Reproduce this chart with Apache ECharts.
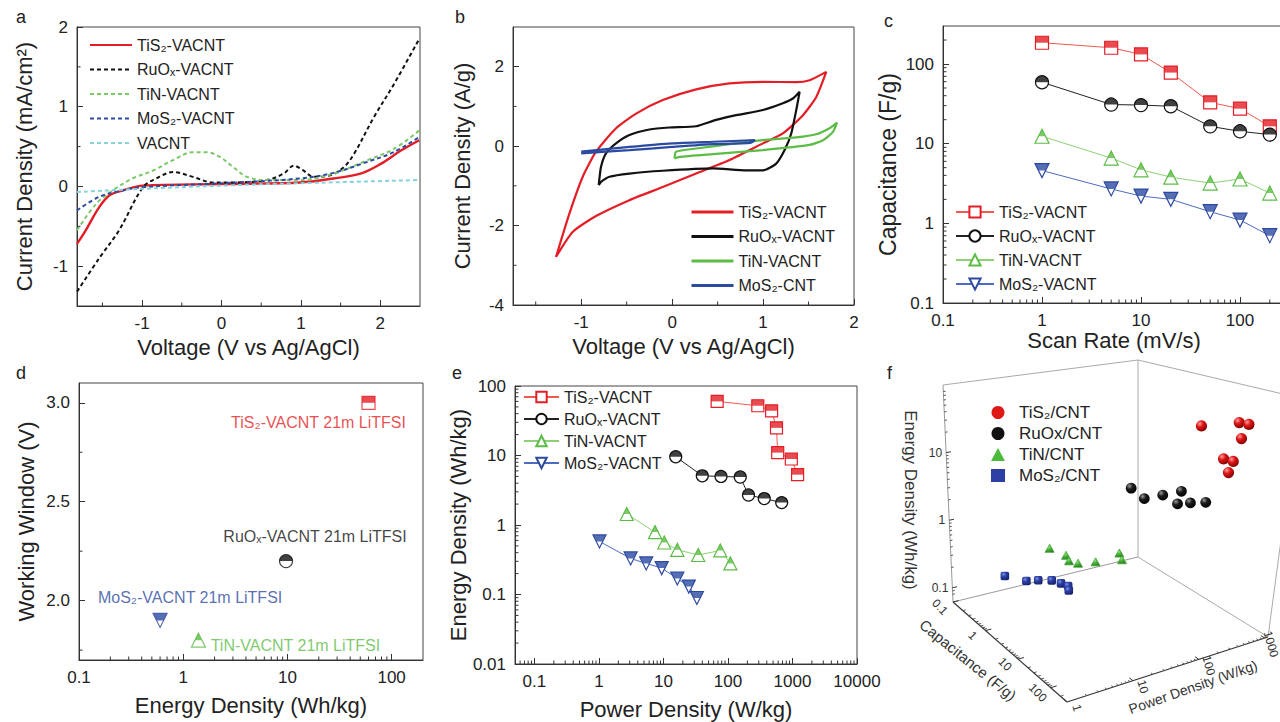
<!DOCTYPE html>
<html><head><meta charset="utf-8">
<script src="https://cdn.jsdelivr.net/npm/echarts@6/dist/echarts.min.js"></script>
<style>html,body{margin:0;padding:0;background:#fff}#c{width:1280px;height:722px}</style>
</head><body><div id="c"></div><script>
// ================= DATA =================
// Panel a: current density (mA/cm2) vs voltage (V vs Ag/AgCl)
const aTiS2 = [[-1.82,-0.72],[-1.71,-0.55],[-1.54,-0.26],[-1.41,-0.11],[-1.24,-0.05],[-0.99,0.01],[0,0.03],[0.99,0.05],[1.41,0.1],[1.75,0.16],[2.0,0.28],[2.26,0.45],[2.49,0.58]];
const aRuOx = [[-1.82,-1.32],[-1.54,-0.9],[-1.29,-0.55],[-0.99,-0.01],[-0.82,0.1],[-0.61,0.18],[-0.36,0.12],[-0.11,0.05],[0.15,0.05],[0.57,0.08],[0.78,0.16],[0.91,0.26],[1.03,0.2],[1.16,0.12],[1.37,0.14],[1.54,0.24],[1.67,0.41],[1.92,0.87],[2.17,1.28],[2.49,1.85]];
const aTiN  = [[-1.82,-0.55],[-1.58,-0.22],[-1.37,-0.05],[-1.12,0.1],[-0.86,0.2],[-0.61,0.33],[-0.36,0.43],[-0.19,0.43],[-0.02,0.37],[0.15,0.24],[0.32,0.12],[0.57,0.08],[0.99,0.08],[1.41,0.16],[1.84,0.33],[2.17,0.47],[2.49,0.7]];
const aMoS2 = [[-1.82,-0.3],[-1.54,-0.13],[-1.29,-0.06],[-0.99,-0.01],[0,0.04],[0.99,0.1],[1.41,0.17],[1.84,0.31],[2.17,0.43],[2.49,0.62]];
const aVACNT = [[-1.82,-0.07],[-0.99,-0.03],[0,0.01],[0.99,0.04],[2.49,0.08]];

// Panel b: CV loops, current density (A/g) vs voltage
const bTiS2 = [[-1.277,-2.79],[-1.130,-1.70],[-0.983,-0.77],[-0.837,-0.14],[-0.617,0.45],[-0.396,0.82],[-0.103,1.16],[0.264,1.43],[0.631,1.58],[0.998,1.62],[1.365,1.61],[1.512,1.66],[1.695,1.87],
  [1.585,1.24],[1.439,0.78],[1.218,0.32],[0.998,0.07],[0.631,-0.35],[0.264,-0.69],[-0.103,-1.03],[-0.470,-1.36],[-0.837,-1.76],[-1.094,-2.16],[-1.277,-2.79]];
const bRuOx = [[-0.807,-0.98],[-0.782,-0.52],[-0.727,-0.18],[-0.617,0.07],[-0.470,0.28],[-0.250,0.42],[-0.029,0.47],[0.264,0.50],[0.484,0.66],[0.705,0.78],[0.998,0.91],[1.218,1.08],[1.328,1.20],[1.402,1.37],
  [1.365,0.91],[1.310,0.32],[1.237,-0.10],[1.145,-0.44],[0.998,-0.61],[0.815,-0.61],[0.448,-0.56],[-0.103,-0.62],[-0.470,-0.69],[-0.690,-0.77],[-0.782,-0.90],[-0.807,-0.98]];
const bTiN  = [[0.026,-0.31],[0.044,-0.14],[0.264,-0.06],[0.631,0.05],[0.998,0.15],[1.365,0.22],[1.585,0.30],[1.732,0.45],[1.813,0.59],
  [1.769,0.36],[1.659,0.15],[1.512,0.03],[0.998,-0.10],[0.448,-0.20],[0.081,-0.27],[0.026,-0.31]];
const bMoS2 = [[-1.0,-0.14],[-0.47,-0.02],[0,0.07],[0.45,0.11],[0.91,0.15],[0.86,0.08],[0.45,0.05],[0,-0.02],[-0.47,-0.10],[-1.0,-0.18]];

// Panel c: capacitance (F/g) vs scan rate (mV/s)
const cScan = [1,5,10,20,50,100,200];
const cTiS2 = [185,160,132,78,33,27.5,16.5];
const cRuOx = [59,31,30.5,29.5,16.5,14.3,13];
const cTiN  = [12.4,6.6,4.7,3.8,3.2,3.6,2.4];
const cMoS2 = [4.6,2.7,2.2,2.0,1.4,1.1,0.7];

// Panel d: working window (V) vs energy density (Wh/kg)
const dNames  = ['TiS₂-VACNT 21m LiTFSI','RuOₓ-VACNT 21m LiTFSI','MoS₂-VACNT 21m LiTFSI','TiN-VACNT 21m LiTFSI'];
const dEnergy = [60, 9.7, 0.6, 1.4];
const dWindow = [3.0, 2.2, 1.9, 1.8];

// Panel e: energy density (Wh/kg) vs power density (W/kg)
const eTiS2P = [68,290,475,565,590,960,1200];
const eTiS2E = [60,52,44,25,11,8.9,5.3];
const eRuOxP = [15.5,40,78,155,208,365,680];
const eRuOxE = [9.6,5.1,5.0,4.9,2.7,2.4,2.1];
const eTiNP  = [2.7,7.4,10.3,16.4,34.6,76,109];
const eTiNE  = [1.44,0.79,0.56,0.44,0.37,0.43,0.28];
const eMoS2P = [1.02,3.1,5.4,9.4,16.4,24.7,33];
const eMoS2E = [0.58,0.33,0.28,0.24,0.17,0.13,0.089];

// Panel f: 3D (power, capacitance, energy) – same measurements
const fNames = ['TiS₂/CNT','RuOx/CNT','TiN/CNT','MoS₂/CNT'];
const fEnergyTicks = [0.1,1,10];
const fCapTicks = [0.1,1,10,100];
const fPowerTicks = [1,10,100,1000];

// ================= STYLE =================
const FONT = '"Liberation Sans", Arial, sans-serif';
const RED='#e31e26', BLK='#111111', GRN='#5cbc46', LGRN='#7cc866', BLU='#2c4aa0', CYN='#86d2dd';

const grids = [
  {left:77, top:27, width:343, height:279},
  {left:513, top:27, width:341, height:278},
  {left:943, top:26, width:396, height:277},
  {left:79, top:383, width:344, height:277},
  {left:515, top:386, width:342, height:278},
  {left:860, top:360, width:420, height:362}
].map((g,i)=>Object.assign(g, {outerBoundsMode:'none', containLabel:false},
   i<5 ? {show:true, borderColor:'#444', borderWidth:1} : {show:false}));

function ax(gi, extra){
  return Object.assign({
    gridIndex:gi,
    axisLine:{show:true, onZero:false, lineStyle:{color:'#333', width:1}},
    axisTick:{show:true, inside:true, length:6, lineStyle:{color:'#333'}},
    axisLabel:{color:'#222', fontSize:17, fontFamily:FONT, margin:9},
    splitLine:{show:false},
    nameLocation:'middle',
    nameTextStyle:{fontSize:22, color:'#222', fontFamily:FONT}
  }, extra);
}
const logFmt = v => String(+(+v).toPrecision(6));
function logLbl(extra){ return Object.assign({color:'#222', fontSize:17, fontFamily:FONT, margin:9, formatter:logFmt}, extra); }

const xAxes = [
  ax(0,{type:'value', min:-1.82, max:2.5, splitNumber:4, name:'Voltage (V vs Ag/AgCl)', nameGap:30,
        axisLabel:{color:'#222',fontSize:17,fontFamily:FONT,margin:9,showMinLabel:false,showMaxLabel:false}}),
  ax(1,{type:'value', min:-1.75, max:2, splitNumber:4, name:'Voltage (V vs Ag/AgCl)', nameGap:30,
        axisLabel:{color:'#222',fontSize:17,fontFamily:FONT,margin:9,showMinLabel:false}}),
  ax(2,{type:'log', logBase:10, min:0.1, max:1000, name:'Scan Rate (mV/s)', nameGap:24, nameTextStyle:{fontSize:22,color:'#222',fontFamily:FONT,padding:[0,0,0,-54]}, axisLabel:logLbl({showMaxLabel:false})}),
  ax(3,{type:'log', logBase:10, min:0.1, max:200, name:'Energy Density (Wh/kg)', nameGap:34, axisLabel:logLbl({showMaxLabel:false})}),
  ax(4,{type:'log', logBase:10, min:0.05, max:10000, name:'Power Density (W/kg)', nameGap:34, axisLabel:logLbl({showMinLabel:false})}),
  {gridIndex:5, type:'value', min:0, max:420, show:false}
];
const yAxes = [
  ax(0,{type:'value', min:-1.5, max:2, splitNumber:4, name:'Current Density (mA/cm²)', nameGap:42,
        axisLabel:{color:'#222',fontSize:17,fontFamily:FONT,margin:9,showMinLabel:false}}),
  ax(1,{type:'value', min:-4, max:3, interval:2, name:'Current Density (A/g)', nameGap:40,
        axisLabel:{color:'#222',fontSize:17,fontFamily:FONT,margin:9,showMaxLabel:false}}),
  ax(2,{type:'log', logBase:10, min:0.1, max:300, name:'Capacitance (F/g)', nameGap:44, nameTextStyle:{fontSize:23,color:'#222',fontFamily:FONT}, axisLabel:logLbl({showMaxLabel:false})}),
  ax(3,{type:'value', min:1.7, max:3.1, splitNumber:3, name:'Working Window (V)', nameGap:42,
        axisLabel:{color:'#222',fontSize:17,fontFamily:FONT,margin:9,showMinLabel:false,showMaxLabel:false,formatter:v=>(+v).toFixed(1)}}),
  ax(4,{type:'log', logBase:10, min:0.01, max:100, name:'Energy Density (Wh/kg)', nameGap:42, axisLabel:logLbl({})}),
  {gridIndex:5, type:'value', min:0, max:362, inverse:true, show:false}
];

// minor ticks via custom series
function logMinors(min, max){
  const out=[]; for(let d=Math.floor(Math.log10(min)); d<=Math.ceil(Math.log10(max)); d++){
    for(let k=2;k<=9;k++){ const v=+(k*Math.pow(10,d)).toPrecision(6); if(v>min*1.0001 && v<max*0.9999) out.push(v);} }
  return out;
}
function minorTicks(gi, dim, vals, other, len){
  return {type:'custom', xAxisIndex:gi, yAxisIndex:gi, silent:true, z:5, data:vals.map(v=>[v]),
    renderItem:(params, api)=>{
      const v = api.value(0);
      const p = dim==='x' ? api.coord([v, other]) : api.coord([other, v]);
      const shape = dim==='x' ? {x1:p[0],y1:p[1],x2:p[0],y2:p[1]-len} : {x1:p[0],y1:p[1],x2:p[0]+len,y2:p[1]};
      return {type:'line', shape, style:{stroke:'#333', lineWidth:1}};
    }};
}

// half-filled symbol helpers
const SYM = {
  square:{full:'rect', half:'path://M0,0L2,0L2,1L0,1Z', hw:1, hh:0.5},
  circle:{full:'circle', half:'path://M0,10A10,10 0 0 1 20,10Z', hw:1, hh:0.5},
  up:{full:'triangle', half:'path://M1,0L2,2L0,2Z', hw:0.5, hh:0.5},
  down:{full:'path://M0,0L2,0L1,2Z', half:'path://M0,0L4,0L3,2L1,2Z', hw:1, hh:0.5}
};
function marked(name, gi, data, color, shape, size, lineColor, label){
  const s = SYM[shape];
  const main = lineColor ? {
      name, type:'line', xAxisIndex:gi, yAxisIndex:gi, data, symbol:s.full, symbolSize:size, showSymbol:true,
      lineStyle:{color:lineColor, width:1}, itemStyle:{color:'#fff', borderColor:color, borderWidth:1.2}, z:3, silent:true}
    : {name, type:'scatter', xAxisIndex:gi, yAxisIndex:gi, data, symbol:s.full, symbolSize:size,
      itemStyle:{color:'#fff', borderColor:color, borderWidth:1.2}, z:3, silent:true, label};
  const half = {name:name+'·h', type:'scatter', xAxisIndex:gi, yAxisIndex:gi, data, symbol:s.half,
      symbolSize:[size*s.hw, size*s.hh], symbolOffset:[0,-size/4], itemStyle:{color}, z:4, silent:true};
  return [main, half];
}
const zip = (xs, ys) => xs.map((x,i)=>[x, ys[i]]);

// ---------- panel f projection ----------
const LOGR = {p:[0,3.05], c:[-1,2.5], z:[-1.21,2.0]};
const FB = [[93,242],[207,342],[408,277],[278,197]];   // floor corners A,B,C,D (grid-local px)
const FT = [[83,25],[240,72],[440,38],[278,0]];        // top corners
function bil(Q,u,v){ const a=(1-u)*(1-v), b=u*(1-v), c=u*v, d=(1-u)*v;
  return [a*Q[0][0]+b*Q[1][0]+c*Q[2][0]+d*Q[3][0], a*Q[0][1]+b*Q[1][1]+c*Q[2][1]+d*Q[3][1]]; }
function fuvw(u,v,w){ const b=bil(FB,u,v), t=bil(FT,u,v); return [b[0]+(t[0]-b[0])*w, b[1]+(t[1]-b[1])*w]; }
const nrm = (x,r)=>(Math.log10(x)-r[0])/(r[1]-r[0]);
function fProj(P,Cp,E){ return fuvw(nrm(Cp,LOGR.c), nrm(P,LOGR.p), nrm(E,LOGR.z)); }

function rg(c0,c1,c2){ return new echarts.graphic.RadialGradient(0.35,0.3,0.75,[{offset:0,color:c0},{offset:0.4,color:c1},{offset:1,color:c2}]); }
function fSeries(name, P, Cp, E, kind, color){
  return {type:'custom', name, xAxisIndex:5, yAxisIndex:5, silent:true, z:10, itemStyle:{color},
    data: P.map((p,i)=>[p, Cp[i], E[i]]),
    renderItem:(params, api)=>{
      const q = api.coord(fProj(api.value(0), api.value(1), api.value(2)));
      const x = q[0]-6, y = q[1];
      if(kind==='redS') return {type:'circle', shape:{cx:x,cy:y,r:5.6}, style:{fill:rg('#ff9d9d','#e01818','#7a0000')}};
      if(kind==='blkS') return {type:'circle', shape:{cx:x,cy:y,r:5.4}, style:{fill:rg('#9a9a9a','#1c1c1c','#000')}};
      if(kind==='tri') return {type:'polygon', shape:{points:[[x,y-5],[x+4.5,y+3],[x-4.5,y+3]]}, style:{fill:rg('#b5f0a0','#4cbb3c','#2a7a20'), stroke:'#3fa533', lineWidth:0.8}};
      return {type:'rect', shape:{x:x-4.3,y:y-4.3,width:8.6,height:8.6,r:2}, style:{fill:rg('#7b8fe0','#2c3fa5','#17226a')}};
    }};
}
function fFrame(){
  return {type:'custom', xAxisIndex:5, yAxisIndex:5, silent:true, z:2, data:[[0,0]],
    renderItem:(params, api)=>{
      const P = (u,v,w)=>api.coord(fuvw(u,v,w));
      const ln = (a,b,col,lw)=>({type:'line', shape:{x1:a[0],y1:a[1],x2:b[0],y2:b[1]}, style:{stroke:col, lineWidth:lw||1}});
      const A=P(0,0,0), B=P(1,0,0), C=P(1,1,0), D=P(0,1,0), At=P(0,0,1), Dt=P(0,1,1), Ct=P(1,1,1);
      const ch = [ln(A,At,'#999'), ln(At,Dt,'#aaa'), ln(D,Dt,'#aaa'), ln(A,D,'#999'), ln(Dt,Ct,'#aaa'), ln(D,C,'#aaa'), ln(C,Ct,'#aaa'),
                  ln(A,B,'#333',1.2), ln(B,C,'#333',1.2)];
      const txt = (p,t,rot,align,fs)=>({type:'text', x:p[0], y:p[1], rotation:rot||0,
        style:{text:t, fill:'#333', fontSize:fs||12, fontFamily:FONT, align:align||'center', verticalAlign:'middle'}});
      fEnergyTicks.forEach(e=>{ const w=nrm(e,LOGR.z); const p=P(0,0,w), q=P(0,0.025,w);
        ch.push(ln(p,q,'#333')); ch.push(txt([p[0]-4,p[1]], String(e), 0, 'right')); });
      logMinors(0.07,90).forEach(e=>{ const w=nrm(e,LOGR.z); ch.push(ln(P(0,0,w),P(0,0.012,w),'#555')); });
      fCapTicks.forEach(c=>{ const u=nrm(c,LOGR.c); const p=P(u,0,0);
        ch.push(ln(p,P(u,0.03,0),'#333')); ch.push(txt([p[0]-13,p[1]+5], String(c), -0.8)); });
      logMinors(0.1,300).forEach(c=>{ const u=nrm(c,LOGR.c); ch.push(ln(P(u,0,0),P(u,0.015,0),'#555')); });
      fPowerTicks.forEach(pw=>{ const v=nrm(pw,LOGR.p); const p=P(1,v,0);
        ch.push(ln(p,P(0.97,v,0),'#333')); ch.push(txt([Math.min(p[0]+10,1271),p[1]+6], String(pw), -1.3)); });
      logMinors(1,1100).forEach(pw=>{ const v=nrm(pw,LOGR.p); ch.push(ln(P(1,v,0),P(0.985,v,0),'#555')); });
      return {type:'group', children:ch};
    }};
}

// ================= SERIES =================
const series = [];
const aLine = (name,data,color,dashed,w)=>({name, type:'line', xAxisIndex:0, yAxisIndex:0, data, symbol:'none', smooth:0.35, silent:true,
  lineStyle:{color, width:w, type: dashed?[4,3]:'solid'}, itemStyle:{color}});
series.push(aLine('a:TiS₂-VACNT', aTiS2, RED, false, 2.4));
series.push(aLine('a:RuOₓ-VACNT', aRuOx, BLK, true, 2));
series.push(aLine('a:TiN-VACNT', aTiN, LGRN, true, 2));
series.push(aLine('a:MoS₂-VACNT', aMoS2, BLU, true, 2));
series.push(aLine('a:VACNT', aVACNT, CYN, true, 2));
const bLine = (name,data,color)=>({name, type:'line', xAxisIndex:1, yAxisIndex:1, data, symbol:'none', smooth:0.2, silent:true,
  lineStyle:{color, width:2.2}, itemStyle:{color}});
series.push(bLine('b:TiS₂-VACNT', bTiS2, RED));
series.push(bLine('b:RuOₓ-VACNT', bRuOx, BLK));
series.push(bLine('b:TiN-VACNT', bTiN, GRN));
series.push(bLine('b:MoS₂-CNT', bMoS2, BLU));
series.push(...marked('c:TiS₂-VACNT', 2, zip(cScan,cTiS2), RED, 'square', 13, '#ee5a50'));
series.push(...marked('c:RuOₓ-VACNT', 2, zip(cScan,cRuOx), BLK, 'circle', 13, '#222'));
series.push(...marked('c:TiN-VACNT', 2, zip(cScan,cTiN), GRN, 'up', 14, '#8fd075'));
series.push(...marked('c:MoS₂-VACNT', 2, zip(cScan,cMoS2), BLU, 'down', 14, '#4d6cc0'));
const dLbl = (i,color,dx,dy)=>({show:true, position:'inside', offset:[dx,dy], color, fontSize:16, fontFamily:FONT, formatter:()=>dNames[i]});
series.push(...marked('d:TiS₂', 3, [[dEnergy[0],dWindow[0]]], RED, 'square', 13, null, dLbl(0,RED,-50,20)));
series.push(...marked('d:RuOₓ', 3, [[dEnergy[1],dWindow[1]]], BLK, 'circle', 13, null, dLbl(1,BLK,29,-25)));
series.push(...marked('d:MoS₂', 3, [[dEnergy[2],dWindow[2]]], BLU, 'down', 14, null, dLbl(2,BLU,30,-23)));
series.push(...marked('d:TiN', 3, [[dEnergy[3],dWindow[3]]], GRN, 'up', 14, null, dLbl(3,GRN,97,5)));
series.push(...marked('e:TiS₂-VACNT', 4, zip(eTiS2P,eTiS2E), RED, 'square', 12, '#ee5a50'));
series.push(...marked('e:RuOₓ-VACNT', 4, zip(eRuOxP,eRuOxE), BLK, 'circle', 12, '#222'));
series.push(...marked('e:TiN-VACNT', 4, zip(eTiNP,eTiNE), GRN, 'up', 13, '#8fd075'));
series.push(...marked('e:MoS₂-VACNT', 4, zip(eMoS2P,eMoS2E), BLU, 'down', 13, '#4d6cc0'));
series.push(fFrame());
series.push(fSeries(fNames[0], eTiS2P, cTiS2, eTiS2E, 'redS', '#e01818'));
series.push(fSeries(fNames[1], eRuOxP, cRuOx, eRuOxE, 'blkS', '#111'));
series.push(fSeries(fNames[2], eTiNP, cTiN, eTiNE, 'tri', '#4cbb3c'));
series.push(fSeries(fNames[3], eMoS2P, cMoS2, eMoS2E, 'sq', '#2c3fa5'));

series.push(minorTicks(0,'x',[-1.5,-0.5,0.5,1.5],-1.5,3.5));
series.push(minorTicks(0,'y',[-0.5,0.5,1.5],-1.82,3.5));
series.push(minorTicks(1,'x',[-1.5,-0.5,0.5,1.5],-4,3.5));
series.push(minorTicks(1,'y',[-3,-1,1],-1.75,3.5));
series.push(minorTicks(2,'x',logMinors(0.1,1000),0.1,3.5));
series.push(minorTicks(2,'y',logMinors(0.1,300),0.1,3.5));
series.push(minorTicks(3,'x',logMinors(0.1,200),1.7,3.5));
series.push(minorTicks(3,'y',[1.75,2.25,2.75],0.1,3.5));
series.push(minorTicks(4,'x',logMinors(0.05,10000),0.01,3.5));
series.push(minorTicks(4,'y',logMinors(0.01,100),0.05,3.5));

// ================= LEGENDS =================
const strip = n => n.slice(2);
const lgText = {fontSize:16, color:'#222', fontFamily:FONT, lineHeight:18};
const legends = [
  {data:['a:TiS₂-VACNT','a:RuOₓ-VACNT','a:TiN-VACNT','a:MoS₂-VACNT','a:VACNT'], left:89, top:36, itemWidth:42, itemHeight:12, itemGap:6.5, textStyle:lgText, itemStyle:{opacity:0}},
  {data:['b:TiS₂-VACNT','b:RuOₓ-VACNT','b:TiN-VACNT','b:MoS₂-CNT'], left:690, top:203, itemWidth:42, itemHeight:12, itemGap:6.5, textStyle:lgText, lineStyle:{width:3}, itemStyle:{opacity:0}},
  {data:['c:TiS₂-VACNT','c:RuOₓ-VACNT','c:TiN-VACNT','c:MoS₂-VACNT'], left:955, top:203, itemWidth:38, itemHeight:14, itemGap:6, textStyle:lgText},
  {data:['e:TiS₂-VACNT','e:RuOₓ-VACNT','e:TiN-VACNT','e:MoS₂-VACNT'], left:523, top:388, itemWidth:35, itemHeight:13, itemGap:4, textStyle:lgText},
].map(l=>Object.assign({orient:'vertical', formatter:strip, selectedMode:false, padding:0}, l));
legends.push({orient:'vertical', left:991, top:404, itemWidth:14, itemHeight:13, itemGap:4, padding:0, selectedMode:false,
  data:[{name:fNames[0],icon:'circle'},{name:fNames[1],icon:'circle'},{name:fNames[2],icon:'triangle'},{name:fNames[3],icon:'rect'}],
  textStyle:{fontSize:17, color:'#222', fontFamily:FONT, lineHeight:17, padding:[0,0,0,9]}});

// ================= GRAPHIC TEXT =================
const letter = (t,x,y)=>({type:'text', left:x, top:y, style:{text:t, fontSize:18, fontFamily:FONT, fill:'#222'}});
const graphic = [
  letter('a',16,8), letter('b',455,8), letter('c',884,12), letter('d',16,364), letter('e',452,364), letter('f',887,364),
  {type:'text', x:910, y:500, rotation:-Math.PI/2, style:{text:'Energy Density (Wh/kg)', fontSize:17, fontFamily:FONT, fill:'#333', align:'center', verticalAlign:'middle'}},
  {type:'text', x:968, y:660, rotation:-0.68, style:{text:'Capacitance (F/g)', fontSize:15, fontFamily:FONT, fill:'#333', align:'center', verticalAlign:'middle'}},
  {type:'text', x:1193, y:687, rotation:0.34, style:{text:'Power Density (W/kg)', fontSize:14, fontFamily:FONT, fill:'#333', align:'center', verticalAlign:'middle'}}
];

const chart = echarts.init(document.getElementById('c'), null, {renderer:'svg', width:1280, height:722});
chart.setOption({
  animation:false, backgroundColor:'#fff',
  textStyle:{fontFamily:FONT},
  grid:grids, xAxis:xAxes, yAxis:yAxes, series, legend:legends, graphic
});
</script></body></html>
